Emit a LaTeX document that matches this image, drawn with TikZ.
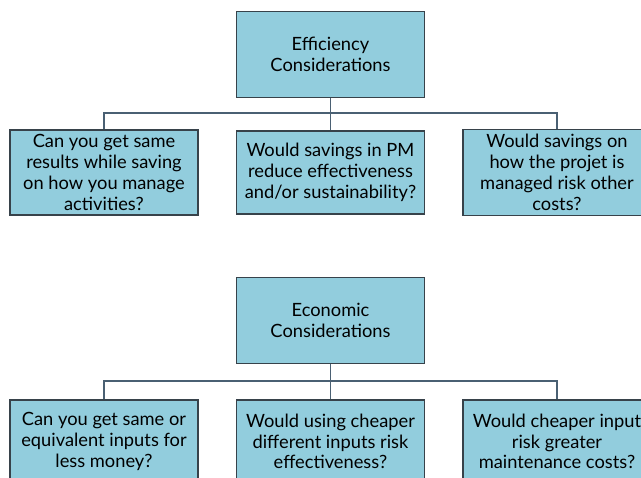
\documentclass[tikz,border=0pt]{standalone}
\usepackage{fontspec}
\setmainfont{Lato}
\definecolor{boxfill}{RGB}{146,205,221}
\definecolor{boxline}{RGB}{55,66,74}
\definecolor{busline}{RGB}{74,96,115}

\tikzset{
  qbox/.style={draw=boxline, fill=boxfill, line width=0.9pt,
    minimum width=4.7cm, minimum height=2.08cm, align=center,
    font=\fontsize{13}{14.8}\selectfont},
  tbox/.style={qbox, minimum height=2.15cm},
  bus/.style={draw=busline, line width=1.3pt}
}

\begin{document}
\begin{tikzpicture}[x=0.025cm, y=-0.025cm]
    \clip (0,0) rectangle (641,478);
    % upper tree
    \node [tbox] (eff) at (330.5,54.5) {Efficiency\\Considerations};
    \node [qbox] (e1) at (104,172.5) {Can you get same\\results while saving\\on how you manage\\activities?};
    \node [qbox] (e2) at (330.5,172.5) {Would savings in PM\\reduce effectiveness\\and/or sustainability?};
    \node [qbox] (e3) at (557,172.5) {Would savings on\\how the projet is\\managed risk other\\costs?};
    \coordinate (J1) at (330.5,113);
      \draw [bus] (eff) -- (J1);
      \draw [bus] (J1) -| (e1);
      \draw [bus] (J1) -- (e2);
      \draw [bus] (J1) -| (e3);
    % lower tree
    \node [tbox] (eco) at (330.5,320.5) {Economic\\Considerations};
    \node [qbox] (c1) at (104,441.5) {Can you get same or\\equivalent inputs for\\less money?};
    \node [qbox] (c2) at (330.5,441.5) {Would using cheaper\\different inputs risk\\effectiveness?};
    \node [qbox] (c3) at (557,441.5) {Would cheaper input\\risk greater\\maintenance costs?};
    \coordinate (J2) at (330.5,381);
      \draw [bus] (eco) -- (J2);
      \draw [bus] (J2) -| (c1);
      \draw [bus] (J2) -- (c2);
      \draw [bus] (J2) -| (c3);
  \end{tikzpicture}
\end{document}
